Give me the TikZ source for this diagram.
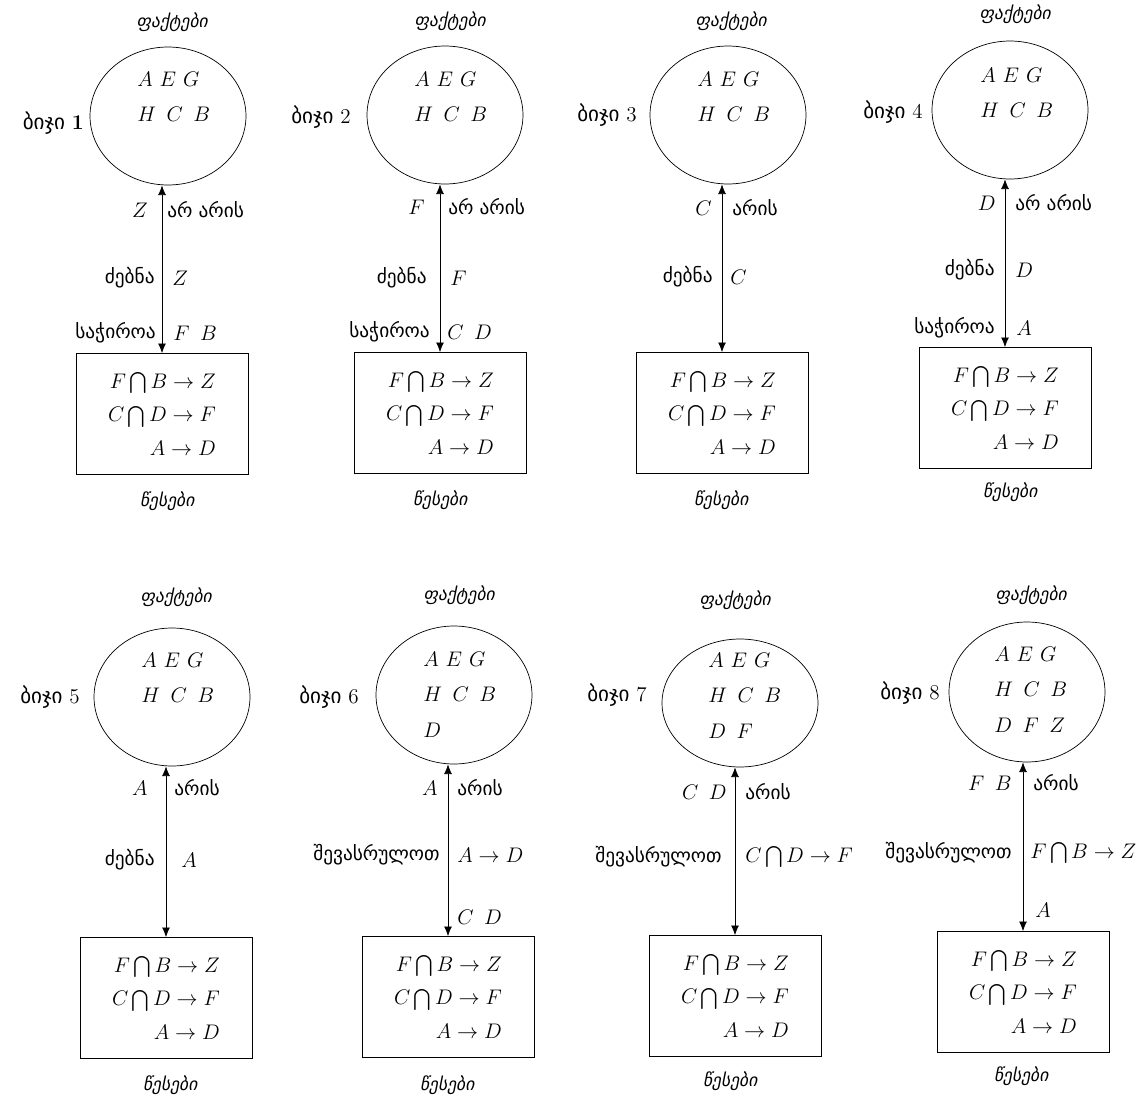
\documentclass[tikz,border=0pt]{standalone}
\usepackage{amsmath}
\usepackage{amssymb}
\usepackage{fontspec}
\newfontfamily\geo{DejaVu Sans}
\newfontfamily\geoit{DejaVu Sans}[FakeSlant=0.2]
\usetikzlibrary{positioning,shapes,arrows,arrows.meta}

\begin{document}
\begin{tikzpicture}[x=0.02cm, y=-0.02cm,
	fct/.style={draw, ellipse, minimum width=3.12cm, minimum height=2.76cm, inner sep=0pt},
	rul/.style={draw, rectangle, minimum width=3.44cm, minimum height=2.42cm, align=right, font=\fontsize{12}{19}\selectfont},
	lst/.style={anchor=north west, inner sep=0pt, align=left, font=\fontsize{12}{20}\selectfont},
	ttl/.style={inner sep=0pt, font=\geoit\fontsize{10}{12}\selectfont},
	stp/.style={anchor=east, inner sep=0pt, font=\geo\fontsize{12}{14}\selectfont},
	lbl/.style={inner sep=0pt, font=\geo\fontsize{11}{13}\selectfont},
	sym/.style={inner sep=0pt, font=\fontsize{12}{14}\selectfont},
	lnk/.style={{Latex[length=5.5pt,width=4.5pt]}-{Latex[length=5.5pt,width=4.5pt]}}]
				\useasboundingbox (0,0) rectangle (1144,1099);
				\node[fct] (f1) at (168,116) {};
				\node[lst] (l1) at (137,72) {$A\ E\ G$\\$H\enspace C\enspace B$};
				\node[rul] (r1) at (162,414) {$F\bigcap B\rightarrow Z$\\$C\bigcap D\rightarrow F$\\$A\rightarrow D$};
				\node[ttl] (k1) at (172,22) {ფაქტები};
				\node[ttl] (w1) at (167,501) {წესები};
				\node[stp] (b1) at (84,123) {ბიჯი {\rmfamily\bfseries 1}};
				\node[sym, anchor=east] (u1) at (148,210) {$Z$};
				\node[lbl, anchor=west] (v1) at (167,210) {არ არის};
				\node[lbl, anchor=east] (m1) at (155,278) {ძებნა};
				\node[sym, anchor=west] (n1) at (172,278) {$Z$};
				\node[lbl, anchor=east] (d1) at (156,333) {საჭიროა};
				\node[sym, anchor=west] (e1) at (173,333) {$F\enspace B$};
				\draw[lnk] (r1.north) -- (r1.north |- f1.south);

				\node[fct] (f2) at (445,115) {};
				\node[lst] (l2) at (414,72) {$A\ E\ G$\\$H\enspace C\enspace B$};
				\node[rul] (r2) at (440,413) {$F\bigcap B\rightarrow Z$\\$C\bigcap D\rightarrow F$\\$A\rightarrow D$};
				\node[ttl] (k2) at (450,21) {ფაქტები};
				\node[ttl] (w2) at (440,500) {წესები};
				\node[stp] (b2) at (351,117) {ბიჯი {\rmfamily 2}};
				\node[sym, anchor=east] (u2) at (425,207) {$F$};
				\node[lbl, anchor=west] (v2) at (448,207) {არ არის};
				\node[lbl, anchor=east] (m2) at (427,278) {ძებნა};
				\node[sym, anchor=west] (n2) at (450,278) {$F$};
				\node[lbl, anchor=east] (d2) at (430,332) {საჭიროა};
				\node[sym, anchor=west] (e2) at (447,332) {$C\enspace D$};
				\draw[lnk] (r2.north) -- (r2.north |- f2.south);

				\node[fct] (f3) at (728,115) {};
				\node[lst] (l3) at (697,72) {$A\ E\ G$\\$H\enspace C\enspace B$};
				\node[rul] (r3) at (722,413) {$F\bigcap B\rightarrow Z$\\$C\bigcap D\rightarrow F$\\$A\rightarrow D$};
				\node[ttl] (k3) at (731,21) {ფაქტები};
				\node[ttl] (w3) at (721,500) {წესები};
				\node[stp] (b3) at (637,115) {ბიჯი {\rmfamily 3}};
				\node[sym, anchor=east] (u3) at (712,208) {$C$};
				\node[lbl, anchor=west] (v3) at (732,208) {არის};
				\node[lbl, anchor=east] (m3) at (713,277) {ძებნა};
				\node[sym, anchor=west] (n3) at (730,277) {$C$};
				\draw[lnk] (r3.north) -- (r3.north |- f3.south);

				\node[fct] (f4) at (1010,110) {};
				\node[lst] (l4) at (980,68) {$A\ E\ G$\\$H\enspace C\enspace B$};
				\node[rul] (r4) at (1005,408) {$F\bigcap B\rightarrow Z$\\$C\bigcap D\rightarrow F$\\$A\rightarrow D$};
				\node[ttl] (k4) at (1015,14) {ფაქტები};
				\node[ttl] (w4) at (1010,492) {წესები};
				\node[stp] (b4) at (923,112) {ბიჯი {\rmfamily 4}};
				\node[sym, anchor=east] (u4) at (996,203) {$D$};
				\node[lbl, anchor=west] (v4) at (1015,203) {არ არის};
				\node[lbl, anchor=east] (m4) at (995,270) {ძებნა};
				\node[sym, anchor=west] (n4) at (1015,270) {$D$};
				\node[lbl, anchor=east] (d4) at (995,328) {საჭიროა};
				\node[sym, anchor=west] (e4) at (1016,328) {$A$};
				\draw[lnk] (r4.north) -- (r4.north |- f4.south);

				\node[fct] (f5) at (172,697) {};
				\node[lst] (l5) at (141,653) {$A\ E\ G$\\$H\enspace C\enspace B$};
				\node[rul] (r5) at (166,998) {$F\bigcap B\rightarrow Z$\\$C\bigcap D\rightarrow F$\\$A\rightarrow D$};
				\node[ttl] (k5) at (176,597) {ფაქტები};
				\node[ttl] (w5) at (170,1085) {წესები};
				\node[stp] (b5) at (80,697) {ბიჯი {\rmfamily 5}};
				\node[sym, anchor=east] (u5) at (148,788) {$A$};
				\node[lbl, anchor=west] (v5) at (174,788) {არის};
				\node[lbl, anchor=east] (m5) at (155,860) {ძებნა};
				\node[sym, anchor=west] (n5) at (181,860) {$A$};
				\draw[lnk] (r5.north) -- (r5.north |- f5.south);

				\node[fct] (f6) at (454,695) {};
				\node[lst] (l6) at (423,652) {$A\ E\ G$\\$H\enspace C\enspace B$\\$D$};
				\node[rul] (r6) at (448,997) {$F\bigcap B\rightarrow Z$\\$C\bigcap D\rightarrow F$\\$A\rightarrow D$};
				\node[ttl] (k6) at (459,595) {ფაქტები};
				\node[ttl] (w6) at (447,1085) {წესები};
				\node[stp] (b6) at (359,697) {ბიჯი {\rmfamily 6}};
				\node[sym, anchor=east] (u6) at (438,788) {$A$};
				\node[lbl, anchor=west] (v6) at (457,788) {არის};
				\node[lbl, anchor=east] (m6) at (440,855) {შევასრულოთ};
				\node[sym, anchor=west] (n6) at (457,855) {$A\rightarrow D$};
				\node[sym, anchor=west] (e6) at (457,917) {$C\enspace D$};
				\draw[lnk] (r6.north) -- (r6.north |- f6.south);

				\node[fct, minimum height=2.56cm] (f7) at (740,703) {};
				\node[lst] (l7) at (708,653) {$A\ E\ G$\\$H\enspace C\enspace B$\\$D\enspace F$};
				\node[rul] (r7) at (735,996) {$F\bigcap B\rightarrow Z$\\$C\bigcap D\rightarrow F$\\$A\rightarrow D$};
				\node[ttl] (k7) at (735,600) {ფაქტები};
				\node[ttl] (w7) at (730,1081) {წესები};
				\node[stp] (b7) at (647,695) {ბიჯი {\rmfamily 7}};
				\node[sym, anchor=east] (u7) at (727,792) {$C\enspace D$};
				\node[lbl, anchor=west] (v7) at (745,792) {არის};
				\node[lbl, anchor=east] (m7) at (722,857) {შევასრულოთ};
				\node[sym, anchor=west] (n7) at (745,857) {$C\bigcap D\rightarrow F$};
				\draw[lnk] (r7.north) -- (r7.north |- f7.south);

				\node[fct, minimum height=2.8cm] (f8) at (1027,692) {};
				\node[lst] (l8) at (994,647) {$A\ E\ G$\\$H\enspace C\enspace B$\\$D\enspace F\enspace Z$};
				\node[rul] (r8) at (1023,992) {$F\bigcap B\rightarrow Z$\\$C\bigcap D\rightarrow F$\\$A\rightarrow D$};
				\node[ttl] (k8) at (1031,595) {ფაქტები};
				\node[ttl] (w8) at (1021,1076) {წესები};
				\node[stp] (b8) at (940,693) {ბიჯი {\rmfamily 8}};
				\node[sym, anchor=east] (u8) at (1012,783) {$F\enspace B$};
				\node[lbl, anchor=west] (v8) at (1033,783) {არის};
				\node[lbl, anchor=east] (m8) at (1012,853) {შევასრულოთ};
				\node[sym, anchor=west] (n8) at (1030,853) {$F\bigcap B\rightarrow Z$};
				\node[sym, anchor=west] (e8) at (1035,910) {$A$};
				\draw[lnk] (r8.north) -- (r8.north |- f8.south);
\end{tikzpicture}
\end{document}
